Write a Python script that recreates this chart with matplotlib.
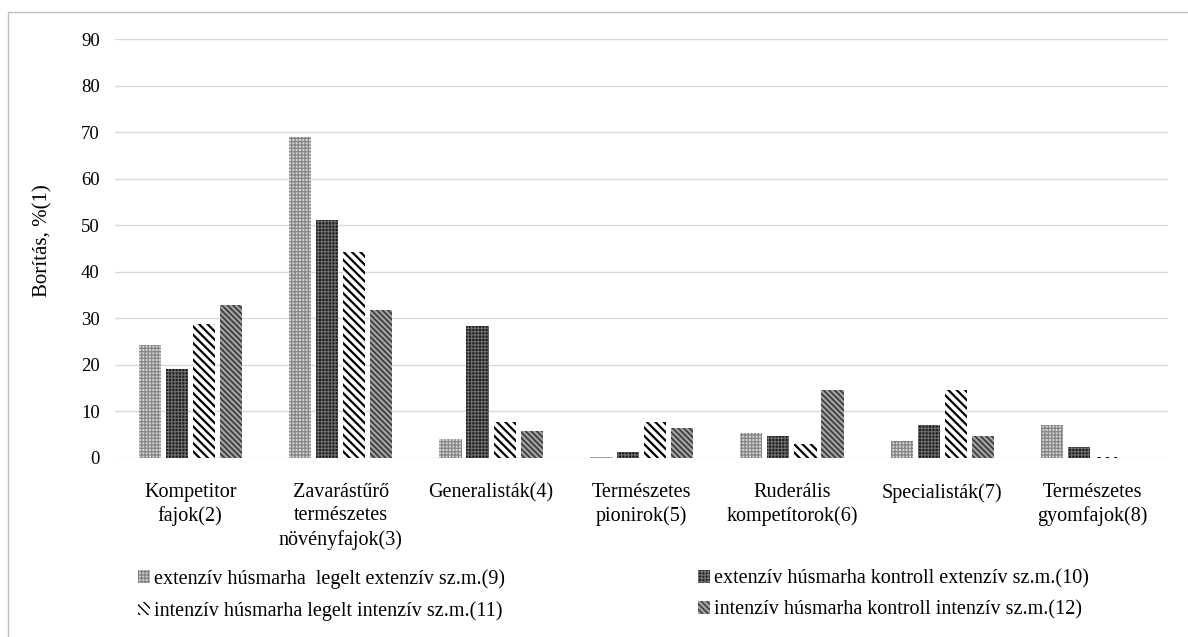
import matplotlib
matplotlib.use("Agg")
import matplotlib.pyplot as plt
import numpy as np
from matplotlib.patches import Rectangle

plt.rcParams['font.family'] = ['Liberation Serif', 'DejaVu Serif']

categories = [
    "Kompetitor\nfajok(2)",
    "Zavarástűrő\ntermészetes\nnövényfajok(3)",
    "Generalisták(4)",
    "Természetes\npionirok(5)",
    "Ruderális\nkompetítorok(6)",
    "Specialisták(7)",
    "Természetes\ngyomfajok(8)",
]

series_names = [
    "extenzív húsmarha  legelt extenzív sz.m.(9)",
    "extenzív húsmarha kontroll extenzív sz.m.(10)",
    "intenzív húsmarha legelt intenzív sz.m.(11)",
    "intenzív húsmarha kontroll intenzív sz.m.(12)",
]

ext_legelt = [24.2, 68.9, 4.0, 0.2, 5.4, 3.6, 7.1]
ext_kontroll = [19.1, 51.1, 28.3, 1.3, 4.7, 7.1, 2.4]
int_legelt = [28.8, 44.2, 7.8, 7.8, 3.1, 14.6, 0.2]
int_kontroll = [32.8, 31.8, 5.8, 6.5, 14.6, 4.7, 0.0]

yticks = [0, 10, 20, 30, 40, 50, 60, 70, 80, 90]

W, H = 1188, 637
fig = plt.figure(figsize=(W / 100, H / 100), dpi=100)
ax = fig.add_axes([115 / W, 1 - 458 / H, (1168 - 115) / W, (458 - 39) / H])

styles = [
    dict(facecolor='#d4d4d4', edgecolor='#858585', hatch='+++++', hlw=0.9),
    dict(facecolor='#1c1c1c', edgecolor='#6e6e6e', hatch='+++++', hlw=0.8),
    dict(facecolor='white', edgecolor='black', hatch='\\' * 4, hlw=1.6),
    dict(facecolor='#a0a0a0', edgecolor='#333333', hatch='\\' * 6, hlw=1.1),
]

data = [ext_legelt, ext_kontroll, int_legelt, int_kontroll]
x = np.arange(len(categories))
step = 0.18
width = 0.147
handles = []
for i, (vals, st) in enumerate(zip(data, styles)):
    with plt.rc_context({'hatch.linewidth': st['hlw']}):
        bars = ax.bar(x + (i - 1.5) * step, vals, width=width,
                      facecolor=st['facecolor'], edgecolor=st['edgecolor'],
                      hatch=st['hatch'], linewidth=0, label=series_names[i],
                      zorder=3)
    handles.append(bars)

ax.set_xlim(-0.5, len(categories) - 0.5)
ax.set_ylim(0, 90)
ax.set_yticks(yticks)
ax.set_yticklabels([str(v) for v in yticks], fontsize=13.5)
ax.set_xticks(x)
ax.set_xticklabels(categories, fontsize=14.5, linespacing=1.3, va='top')
ax.tick_params(axis='both', length=0)
ax.tick_params(axis='y', pad=11)
ax.tick_params(axis='x', pad=18)
ax.grid(axis='y', color='#d9d9d9', linewidth=1.0, zorder=0)
ax.set_axisbelow(True)
for sp in ax.spines.values():
    sp.set_visible(False)

fig.text(43 / W, 1 - 241 / H, "Borítás, %(1)", rotation=90, ha='center',
         va='center', fontsize=15)

leg_kw = dict(frameon=False, fontsize=14.5, handlelength=0.6, handleheight=0.6,
              handletextpad=0.2, labelspacing=0.6, borderaxespad=0,
              borderpad=0, loc='upper left')
leg1 = fig.legend([handles[0], handles[2]], [series_names[0], series_names[2]],
                  bbox_to_anchor=(138 / W, 1 - 569 / H), **leg_kw)
leg2 = fig.legend([handles[1], handles[3]], [series_names[1], series_names[3]],
                  bbox_to_anchor=(698 / W, 1 - 569 / H), **leg_kw)

# light frame around the chart area
fig.patches.append(Rectangle((8 / W, -0.01), 1.2, 1 - 12 / H + 0.01,
                             transform=fig.transFigure, fill=False,
                             edgecolor='#bfbfbf', linewidth=1.0))

fig.savefig("out.png", dpi=100)
